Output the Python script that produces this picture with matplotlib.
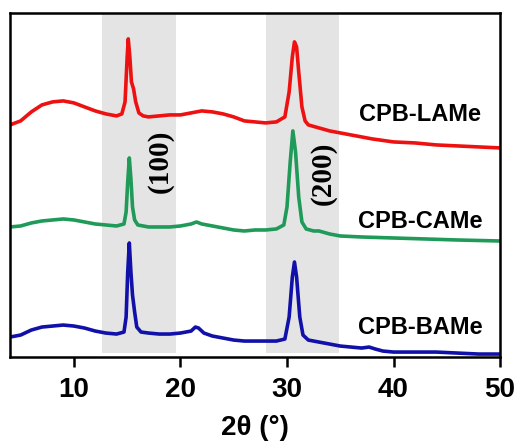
import numpy as np
import matplotlib.pyplot as plt

# XRD patterns, offset intensities (a.u.)
x_lame = [4, 5, 6, 7, 8, 9, 10, 11, 12, 13, 14, 14.5, 14.8, 15.0, 15.1, 15.25, 15.4, 15.6, 15.8,
          16.1, 16.5, 17, 18, 19, 20, 21, 22, 23, 24, 25, 26, 27, 28, 29, 29.8, 30.2, 30.5, 30.7,
          30.9, 31.1, 31.4, 31.7, 32, 33, 34, 35, 36, 38, 40, 42, 44, 46, 48, 50]
y_lame = [232, 236, 245, 252, 255, 256, 254, 250, 246, 243, 241, 243, 255, 300, 318, 300, 275, 268, 255,
          244, 241, 240, 241, 242, 242, 244, 246, 245, 243, 240, 236, 235, 234, 235, 240, 265, 300, 315,
          310, 285, 250, 236, 232, 229, 226, 224, 222, 218, 215, 214, 212, 211, 210, 209]

x_came = [4, 5, 6, 7, 8, 9, 10, 11, 12, 13, 14, 14.7, 14.9, 15.05, 15.2, 15.35, 15.5, 15.7, 16,
          17, 18, 19, 20, 21, 21.5, 22, 23, 24, 25, 26, 27, 28, 29, 29.7, 30.0, 30.3, 30.55, 30.8,
          31.1, 31.4, 31.8, 32.5, 33, 34, 35, 37, 40, 43, 46, 50]
y_came = [130, 131, 134, 136, 137, 138, 137, 135, 133, 132, 131, 133, 145, 175, 199, 178, 150, 137, 132,
          130, 130, 130, 131, 133, 135, 133, 131, 129, 127, 126, 127, 127, 128, 132, 150, 195, 226, 205,
          160, 135, 128, 126, 126, 123, 121, 120, 119, 118, 117, 116]

x_bame = [4, 5, 6, 7, 8, 9, 10, 11, 12, 13, 14, 14.7, 14.9, 15.05, 15.2, 15.35, 15.5, 15.7, 15.9,
          16.3, 17, 18, 19, 20, 21, 21.4, 21.7, 22.2, 23, 24, 25, 26, 27, 28, 29, 29.8, 30.2, 30.5,
          30.7, 30.9, 31.2, 31.5, 32, 33, 34, 35, 36, 37, 37.7, 38.3, 39, 40, 42, 44, 46, 48, 50]
y_bame = [20, 22, 27, 30, 31, 32, 31, 29, 26, 24, 23, 25, 40, 85, 114, 85, 62, 45, 30,
          25, 24, 23, 23, 24, 26, 30, 29, 24, 21, 19, 17, 16, 16, 16, 16, 18, 40, 80,
          95, 80, 40, 22, 17, 15, 13, 11, 10, 9, 10, 8, 6, 5, 5, 5, 4, 3, 3]

samples = ['CPB-LAMe', 'CPB-CAMe', 'CPB-BAMe']
label_y = [242, 135, 30]
planes = ['(100)', '(200)']
plane_x = [18.1, 33.4]
plane_y = [196, 184]
bands = [(12.6, 19.6), (28.0, 34.9)]

fig = plt.figure(figsize=(5.17, 4.43), dpi=100)
ax = fig.add_axes([0.0193, 0.194, 0.948, 0.777])

for lo, hi in bands:
    ax.axvspan(lo, hi, ymin=0.012, ymax=1, color='#e4e4e4', lw=0, zorder=0)

ax.plot(x_lame, y_lame, color='#ee1111', lw=2.6)
ax.plot(x_came, y_came, color='#1f9a58', lw=2.6)
ax.plot(x_bame, y_bame, color='#1111aa', lw=2.6)

for name, yy in zip(samples, label_y):
    ax.text(42.5, yy, name, ha='center', va='center', fontsize=17,
            fontweight='bold', family='Liberation Sans')
for p, px, py in zip(planes, plane_x, plane_y):
    ax.text(px, py, p, ha='center', va='center', rotation=90, fontsize=21,
            fontweight='bold', family='Liberation Serif')

ax.set_xlim(4, 50)
ax.set_ylim(0, 344)
ax.set_yticks([])
ax.set_xticks([10, 20, 30, 40, 50])
ax.tick_params(axis='x', direction='out', length=7, width=1.8, pad=7, labelsize=20)
for lab in ax.get_xticklabels():
    lab.set_fontweight('bold')
    lab.set_family('Liberation Sans')
for s in ax.spines.values():
    s.set_linewidth(1.8)
ax.set_xlabel('2θ (°)', fontsize=20, fontweight='bold', family='Liberation Sans', labelpad=9)

fig.savefig('out.png', dpi=100)
